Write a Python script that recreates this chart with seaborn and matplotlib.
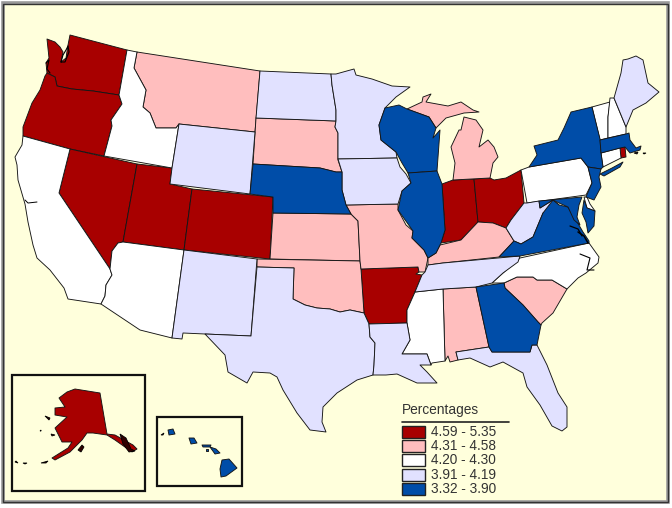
import matplotlib
matplotlib.use("Agg")
import matplotlib.pyplot as plt
from matplotlib.patches import Polygon, Rectangle
import numpy as np
import seaborn as sns

# class limits and colours, highest class first
class_labels = ["4.59 - 5.35", "4.31 - 4.58", "4.20 - 4.30", "3.91 - 4.19", "3.32 - 3.90"]
class_floors = [4.59, 4.31, 4.20, 3.91, 3.32]
class_colors = ["#A80000", "#FFBEBE", "#FFFFFF", "#E1E1FF", "#004DA8"]

# estimated rate per state, only the class can be read from the map
high_states = {"WA": 4.9, "OR": 5.0, "NV": 5.35, "UT": 4.7, "CO": 4.8, "AR": 4.7, "IN": 4.8,
               "OH": 4.7, "RI": 4.7, "AK": 4.9}
pink_states = {"MT": 4.4, "SD": 4.4, "KS": 4.4, "OK": 4.5, "MO": 4.4, "KY": 4.5, "MI": 4.5,
               "MI_UP": 4.5, "AL": 4.4, "SC": 4.4, "DC": 4.5}
white_states = {"CA": 4.25, "ID": 4.25, "AZ": 4.25, "MS": 4.25, "NC": 4.25, "PA": 4.25, "CT": 4.25,
                "VT": 4.25, "NH": 4.25, "DE": 4.25}
pale_states = {"ND": 4.0, "WY": 4.0, "NM": 4.0, "TX": 4.1, "LA": 4.1, "MN": 4.0, "IA": 4.1,
               "TN": 4.1, "FL": 4.1, "WV": 4.0, "ME": 4.0}
blue_states = {"NE": 3.8, "WI": 3.8, "IL": 3.8, "GA": 3.7, "VA": 3.7, "MD": 3.8, "MD_E": 3.8,
               "NY": 3.6, "LI": 3.6, "NJ": 3.6, "MA": 3.8, "HI": 3.32, "HI2": 3.32, "HI3": 3.32,
               "HI4": 3.32, "HI5": 3.32, "HI6": 3.32}

outlines = {
    "WA": [(70,35),(127,50),(119,95),(93,91),(72,89),(57,86),(55,77),(47,73),(46,63),(49,58),(47,39),(55,42),(60,47),(63,52),(61,62),(66,58),(68,45)],
    "OR": [(47,73),(55,77),(57,86),(72,89),(93,91),(119,95),(122,104),(111,120),(112,126),(104,156),(70,149),(23,136),(23,127),(32,103),(40,90),(45,76)],
    "CA": [(23,136),(70,149),(59,193),(110,269),(112,275),(106,285),(105,296),(101,304),(68,299),(64,288),(50,270),(37,258),(33,245),(28,222),(25,204),(18,180),(17,165),(15,157),(22,145)],
    "NV": [(70,149),(137,164),(123,242),(118,243),(112,251),(110,269),(59,193)],
    "AZ": [(123,242),(184,250),(172,338),(140,330),(101,304),(105,296),(106,285),(112,275),(110,269),(112,251),(118,243)],
    "UT": [(137,164),(172,168),(170,184),(192,189),(184,250),(123,242)],
    "CO": [(192,189),(273,197),(270,259),(184,250)],
    "WY": [(179,124),(255,132),(250,194),(170,184),(172,168)],
    "ID": [(127,50),(137,52),(134,68),(146,90),(143,107),(150,113),(156,128),(176,128),(179,124),(172,168),(104,156),(112,126),(111,120),(122,104),(119,95)],
    "MT": [(137,52),(260,71),(255,132),(179,124),(176,128),(156,128),(150,113),(143,107),(146,90),(134,68)],
    "ND": [(260,71),(331,74),(332,85),(336,110),(336,121),(256,118)],
    "SD": [(256,118),(336,121),(335,127),(338,133),(338,160),(342,172),(336,172),(320,168),(253,164)],
    "NE": [(253,164),(320,168),(336,172),(342,172),(342,190),(346,205),(351,214),(273,213),(273,197),(250,194)],
    "KS": [(273,213),(351,214),(358,221),(360,261),(270,259)],
    "OK": [(257,259),(360,261),(361,269),(364,313),(350,310),(340,312),(330,309),(317,308),(305,305),(293,299),(294,268),(257,267)],
    "TX": [(257,267),(294,268),(293,299),(305,305),(317,308),(330,309),(340,312),(350,310),(364,313),(369,324),(370,337),(375,343),(374,365),(373,375),(357,380),(337,393),(323,407),(322,422),(326,432),(310,430),(297,413),(283,390),(277,377),(270,373),(253,372),(247,383),(228,372),(225,355),(205,334),(251,336)],
    "NM": [(184,250),(257,259),(251,336),(205,334),(183,333),(182,339),(172,338)],
    "MN": [(336,74),(354,69),(356,75),(372,79),(392,86),(410,87),(396,97),(385,108),(379,125),(381,140),(396,152),(397,158),(338,159),(338,133),(335,127),(336,121),(336,110),(332,85),(331,74)],
    "IA": [(338,159),(397,158),(400,167),(406,174),(411,183),(402,191),(398,204),(346,205),(342,190),(342,172)],
    "MO": [(346,205),(398,204),(398,210),(406,225),(413,231),(412,238),(424,250),(428,258),(425,272),(419,272),(418,267),(361,269),(360,261),(358,221),(351,214)],
    "AR": [(361,269),(418,267),(419,272),(416,274),(422,275),(415,292),(407,310),(407,323),(369,324),(364,313)],
    "LA": [(369,324),(407,323),(410,340),(402,354),(427,354),(431,365),(420,365),(427,372),(437,383),(417,383),(397,374),(386,375),(373,375),(374,365),(375,343),(370,337)],
    "MS": [(415,292),(443,289),(445,361),(432,363),(431,365),(427,354),(402,354),(410,340),(407,323),(407,310)],
    "AL": [(443,289),(476,287),(489,347),(456,352),(458,360),(450,362),(448,356),(445,361)],
    "GA": [(476,287),(504,283),(505,288),(523,305),(538,322),(541,325),(537,345),(532,345),(530,352),(492,352),(489,347)],
    "FL": [(456,352),(489,347),(492,352),(530,352),(532,345),(537,345),(547,365),(558,393),(567,407),(567,427),(562,431),(552,426),(540,405),(527,387),(523,373),(503,362),(490,367),(470,358),(458,360)],
    "SC": [(504,283),(517,277),(533,277),(537,280),(552,280),(567,289),(553,313),(542,323),(541,325),(538,322),(523,305),(505,288)],
    "NC": [(492,283),(503,273),(520,258),(589,243),(594,250),(599,257),(598,263),(586,273),(578,278),(567,289),(552,280),(537,280),(533,277),(517,277),(504,283)],
    "TN": [(415,292),(422,275),(425,272),(428,265),(443,263),(520,256),(518,262),(503,273),(492,283),(476,287),(443,289)],
    "KY": [(428,258),(436,253),(440,245),(461,240),(478,222),(493,223),(506,228),(514,241),(499,257),(443,263),(428,265)],
    "IL": [(408,173),(437,171),(442,184),(445,230),(441,243),(436,253),(428,258),(424,250),(412,238),(413,231),(398,210),(402,191),(411,183)],
    "WI": [(385,108),(399,105),(407,109),(429,117),(436,128),(433,138),(440,130),(437,171),(408,173),(402,163),(396,152),(381,140),(379,125)],
    "MI_UP": [(407,109),(422,102),(423,97),(431,94),(426,102),(448,106),(461,102),(473,110),(479,112),(464,113),(446,118),(436,128),(429,117)],
    "MI": [(464,117),(476,120),(483,130),(479,147),(488,140),(494,147),(498,157),(493,163),(490,178),(453,180),(455,163),(451,147),(459,130),(461,130)],
    "IN": [(442,184),(453,180),(474,179),(478,222),(461,240),(441,243),(445,230)],
    "OH": [(474,179),(490,178),(494,180),(506,178),(521,170),(524,203),(511,220),(506,228),(493,223),(478,222)],
    "WV": [(524,203),(527,203),(539,201),(540,208),(553,200),(559,205),(543,213),(533,237),(521,244),(514,241),(506,228),(511,220)],
    "PA": [(521,170),(529,167),(581,158),(588,167),(592,183),(586,195),(527,203)],
    "NY": [(529,167),(537,155),(534,146),(558,140),(564,128),(571,112),(592,107),(600,139),(601,153),(603,167),(601,169),(588,167),(581,158)],
    "LI": [(600,174),(612,168),(623,162),(620,167),(604,176)],
    "NJ": [(588,167),(601,169),(599,177),(601,187),(594,200),(586,197),(592,183)],
    "CT": [(601,153),(620,148),(621,158),(603,167)],
    "RI": [(620,148),(625,147),(626,157),(621,158)],
    "MA": [(600,140),(626,134),(629,133),(630,140),(636,148),(641,146),(640,150),(630,153),(625,147),(620,148),(601,153)],
    "VT": [(592,107),(610,102),(608,117),(608,138),(600,140)],
    "NH": [(610,98),(614,98),(626,127),(626,134),(608,138),(608,117)],
    "ME": [(614,98),(621,73),(623,60),(628,59),(636,56),(643,60),(648,83),(659,92),(646,103),(633,110),(626,127)],
    "MD": [(539,201),(582,197),(579,205),(577,217),(580,225),(574,220),(568,207),(559,203),(553,200),(540,208)],
    "MD_E": [(584,200),(587,208),(595,211),(594,226),(588,233),(586,222),(582,213)],
    "DE": [(584,197),(587,197),(590,204),(595,211),(587,208)],
    "VA": [(499,257),(514,241),(521,244),(533,237),(543,213),(553,200),(559,205),(568,207),(576,220),(583,232),(589,241),(589,243),(520,256)],
    "DC": [(572,205),(576,209),(572,213),(568,209)],
    "AK": [(75,389),(100,393),(107,434),(115,435),(133,445),(137,449),(132,452),(115,440),(107,435),(93,433),(87,433),(82,440),(70,452),(55,460),(52,458),(68,448),(72,442),(62,442),(55,428),(67,417),(55,415),(55,408),(65,407),(59,398),(67,392)],
    "HI": [(222,460),(229,459),(237,468),(226,476),(221,477),(220,469)],
    "HI2": [(210,447),(216,449),(220,453),(215,454)],
    "HI3": [(189,438),(194,438),(197,443),(191,444)],
    "HI4": [(168,430),(173,429),(175,434),(169,435)],
    "HI5": [(202,445),(211,445),(210,447),(203,447)],
    "HI6": [(206,449),(208,449),(208,451),(206,451)],
}

# little islands, mostly outline at this size
islands = [
    [(120,434),(126,438),(131,449),(135,451),(129,452),(123,444)],
    [(78,450),(82,445),(84,447),(81,452)],
    [(45,416),(50,418),(49,420)],
    [(51,434),(55,435),(52,436)],
    [(40,431),(41,430),(41,431)],
    [(41,463),(48,461),(46,463)],
    [(23,463),(27,463),(25,464)],
    [(16,461),(18,463),(15,462)],
    [(161,435),(164,433),(163,435)],
    [(634,153),(638,152),(637,154)],
    [(643,153),(646,153),(644,154)],
]

sns.set_style("white")
plt.rcParams["font.family"] = ["Liberation Sans", "DejaVu Sans"]

palette = sns.color_palette(class_colors)


def class_color(value):
    # class_floors runs downwards, so take the first floor the value reaches
    idx = int(np.argmax(value >= np.array(class_floors)))
    return palette[idx]


def draw_map(ax):
    for group in [high_states, pink_states, white_states, pale_states, blue_states]:
        for state, value in group.items():
            ax.add_patch(Polygon(outlines[state], closed=True, facecolor=class_color(value),
                                 edgecolor="#151515", linewidth=0.65, joinstyle="round"))
    for shape in islands:
        ax.add_patch(Polygon(shape, closed=True, facecolor="#300000", edgecolor="black", linewidth=0.6))
    # Puget Sound and the Chesapeake shoreline are just scribbles of outline
    ax.plot([61, 63, 66, 68, 69, 65, 61], [62, 55, 50, 46, 52, 62, 62], color="black", lw=0.8)
    ax.plot([46, 49, 47, 50], [63, 60, 69, 73], color="black", lw=0.8)
    ax.plot([25, 28, 37], [200, 203, 202], color="black", lw=0.7)
    ax.plot([570, 578, 582], [226, 229, 236], color="black", lw=0.9)
    ax.plot([578, 584, 588], [232, 236, 243], color="black", lw=1.1)
    ax.plot([580, 590, 587, 594], [254, 258, 270, 270], color="black", lw=0.8)


def draw_legend(ax):
    ax.text(402, 410, "Percentages", fontsize=9.9, color="#333333", va="center", ha="left")
    ax.plot([402, 509], [422, 422], color="#222222", lw=1.2)
    tops = [426, 440, 454, 469, 483]
    for top, label, color in zip(tops, class_labels, palette):
        ax.add_patch(Rectangle((402, top), 23, 11.5, facecolor=color, edgecolor="#222222", linewidth=1.0))
        ax.text(431, top + 6, label, fontsize=9.8, color="#333333", va="center", ha="left")


fig = plt.figure(figsize=(6.72, 5.08), dpi=100, facecolor="white")
ax = fig.add_axes([0, 0, 1, 1])
ax.set_xlim(0, 672)
ax.set_ylim(508, 0)
ax.axis("off")

# page frame with its grey shadow
ax.add_patch(Rectangle((2.5, 3), 665.5, 499, facecolor="#FFFFDC", edgecolor="#999999", linewidth=2.6))
ax.add_patch(Rectangle((3, 3.5), 664.5, 498, facecolor="none", edgecolor="#333333", linewidth=1.0))

# inset boxes
ax.add_patch(Rectangle((11.5, 374.5), 133, 116, facecolor="none", edgecolor="#111111", linewidth=1.6))
ax.add_patch(Rectangle((156.5, 416.5), 85, 69, facecolor="none", edgecolor="#111111", linewidth=1.6))

draw_map(ax)
draw_legend(ax)

fig.savefig("out.png", dpi=100)
